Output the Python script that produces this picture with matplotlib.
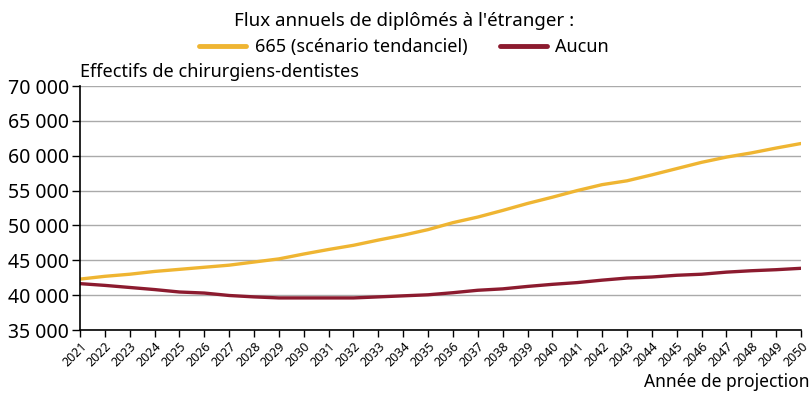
import matplotlib.pyplot as plt
from matplotlib.ticker import FuncFormatter

plt.rcParams["font.family"] = ["Noto Sans", "DejaVu Sans"]

years = list(range(2021, 2051))

tendanciel = [
    42300, 42700, 43000, 43400, 43700, 44000, 44300, 44750, 45200, 45900,
    46550, 47150, 47900, 48600, 49400, 50400, 51200, 52150, 53150, 54050,
    55000, 55850, 56400, 57250, 58150, 59050, 59800, 60400, 61100, 61750,
]

aucun = [
    41650, 41400, 41100, 40800, 40450, 40300, 39950, 39750, 39600, 39600,
    39600, 39600, 39750, 39900, 40050, 40350, 40700, 40900, 41250, 41550,
    41800, 42150, 42450, 42600, 42850, 43000, 43300, 43500, 43650, 43850,
]

yellow = "#efb532"
red = "#8c1b2f"

fig = plt.figure(figsize=(8.11, 3.93), dpi=100)
ax = fig.add_axes([80 / 811, 1 - 330 / 393, 721 / 811, 244 / 393])

ax.plot(years, tendanciel, color=yellow, lw=2.4, label="665 (scénario tendanciel)", solid_capstyle="round")
ax.plot(years, aucun, color=red, lw=2.4, label="Aucun", solid_capstyle="round")

ax.set_xlim(2021, 2050)
ax.set_ylim(35000, 70000)
ax.set_yticks(range(35000, 70001, 5000))
ax.yaxis.set_major_formatter(FuncFormatter(lambda v, p: f"{int(v):,}".replace(",", " ")))
ax.set_xticks(years)
ax.set_xticklabels([str(y) for y in years], rotation=45, ha="right", rotation_mode="anchor", fontsize=9)
ax.tick_params(axis="y", labelsize=14, length=6, width=1, pad=2)
ax.tick_params(axis="x", length=5, width=1, pad=2)

ax.grid(axis="y", color="#aaaaaa", lw=1)
ax.set_axisbelow(True)
for s in ["top", "right"]:
    ax.spines[s].set_visible(False)
for s in ["left", "bottom"]:
    ax.spines[s].set_linewidth(1.2)

fig.text(80 / 811, 1 - 72 / 393, "Effectifs de chirurgiens-dentistes", fontsize=13, va="center", ha="left")
fig.text(810 / 811, 1 - 382 / 393, "Année de projection", fontsize=12.5, va="center", ha="right")

leg = fig.legend(loc="upper center", bbox_to_anchor=(404 / 811, 1.0), ncol=2, frameon=False,
                 title="Flux annuels de diplômés à l'étranger :", fontsize=13, title_fontsize=13.5,
                 handlelength=2.6, columnspacing=1.8, handletextpad=0.45, borderaxespad=0.25,
                 labelspacing=0.45)
for h in leg.get_lines():
    h.set_linewidth(3.5)

plt.savefig("out.png", dpi=100)
